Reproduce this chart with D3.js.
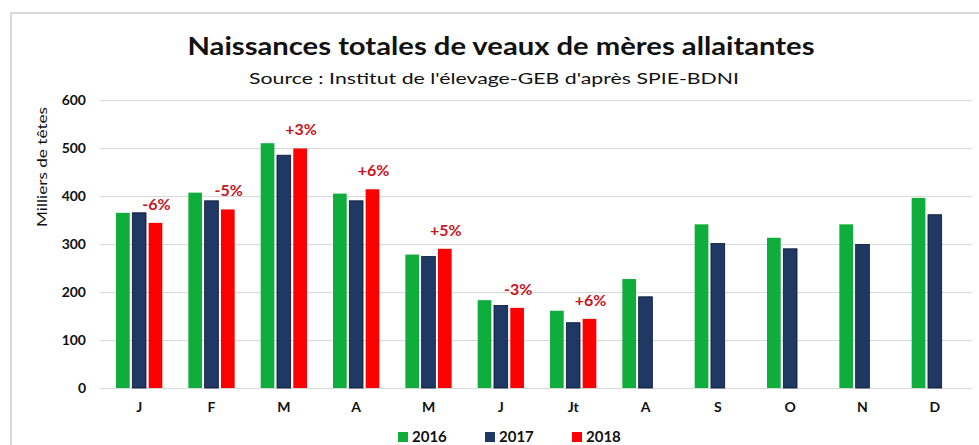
<!DOCTYPE html>
<html><head><meta charset="utf-8">
<script src="https://cdn.jsdelivr.net/npm/d3@7"></script>
<style>body{margin:0;background:#fff;} svg{display:block;font-family:Lato,"Open Sans",sans-serif;}</style>
</head><body>
<svg id="c" width="979" height="445"></svg>
<script>
const months = ["J","F","M","A","M","J","Jt","A","S","O","N","D"];
const years = ["2016","2017","2018"];
const v2016 = [365,407,510,405,278,183,161,227,341,313,341,396];
const v2017 = [365,390,485,390,274,172,136,190,301,290,299,361];
const v2018 = [344,372,499,414,290,167,144,null,null,null,null,null];
const pctLabels = ["-6%","-5%","+3%","+6%","+5%","-3%","+6%",null,null,null,null,null];
const yTicks = [0,100,200,300,400,500,600];
const colors = ["#0fad3c","#1f3864","#ff0000"];

const svg = d3.select("#c");
const W = 979, H = 445;
const gridL = 100, gridR = 972;
const x0 = d3.scaleBand().domain(d3.range(months.length)).range([103, 971]).paddingInner(0.36).paddingOuter(0.18);
const x1 = d3.scaleBand().domain(years).range([0, x0.bandwidth()]).paddingInner(0.16);
const y = d3.scaleLinear().domain([0,600]).range([388,100]);

// frame
svg.append("rect").attr("x",11).attr("y",13).attr("width",W).attr("height",H)
  .attr("fill","none").attr("stroke","#d9d9d9").attr("stroke-width",2);

// title
svg.append("text").attr("x",501).attr("y",55).attr("text-anchor","middle")
  .attr("font-size",24).attr("font-weight","bold").attr("fill","#111")
  .attr("textLength",627).attr("lengthAdjust","spacingAndGlyphs")
  .text("Naissances totales de veaux de mères allaitantes");
svg.append("text").attr("x",494).attr("y",84).attr("text-anchor","middle")
  .attr("font-size",15).attr("fill","#111")
  .attr("textLength",490).attr("lengthAdjust","spacingAndGlyphs")
  .text("Source : Institut de l'élevage-GEB d'après SPIE-BDNI");

// grid
const yAxis = d3.axisLeft(y).tickValues(yTicks).tickSize(-(gridR - gridL)).tickPadding(14);
const gy = svg.append("g").attr("transform",`translate(${gridL},0)`).call(yAxis);
gy.select(".domain").remove();
gy.selectAll(".tick line").attr("stroke","#d9d9d9").attr("stroke-width",1);
gy.selectAll(".tick text").attr("font-size",14).attr("font-weight","bold").attr("fill","#111").attr("font-family","Lato, sans-serif");

// y title
svg.append("text").attr("transform","translate(47,167) rotate(-90)").attr("text-anchor","middle")
  .attr("font-size",13).attr("fill","#111")
  .attr("textLength",120).attr("lengthAdjust","spacingAndGlyphs")
  .text("Milliers de têtes");

// bars
const series = [v2016, v2017, v2018];
series.forEach((vals, si) => {
  svg.append("g").selectAll("rect").data(vals.map((v,i)=>({v,i})).filter(d=>d.v!=null))
    .join("rect")
    .attr("x", d => x0(d.i) + x1(years[si]))
    .attr("y", d => y(d.v))
    .attr("width", x1.bandwidth())
    .attr("height", d => y(0) - y(d.v))
    .attr("fill", colors[si])
    .attr("stroke", si===1 ? "#0a1530" : "none").attr("stroke-width", 0.8);
});

// pct labels
svg.append("g").selectAll("text").data(pctLabels.map((t,i)=>({t,i})).filter(d=>d.t))
  .join("text")
  .attr("x", d => x0(d.i) + x1("2018") + x1.bandwidth()/2 + 1)
  .attr("y", d => y(v2018[d.i]) - 13)
  .attr("text-anchor","middle").attr("font-size",16).attr("font-weight","bold")
  .attr("fill","#c8141e").text(d => d.t);

// x axis
const xAxis = d3.axisBottom(x0).tickFormat(i => months[i]).tickSize(0).tickPadding(14);
const gx = svg.append("g").attr("transform",`translate(0,${y(0)})`).call(xAxis);
gx.select(".domain").remove();
gx.selectAll(".tick text").attr("font-size",14).attr("font-weight","bold").attr("fill","#111").attr("font-family","Lato, sans-serif");

// legend
const legX = [398, 485, 572];
const lg = svg.append("g");
years.forEach((yr, i) => {
  lg.append("rect").attr("x",legX[i]).attr("y",432).attr("width",10).attr("height",10).attr("fill",colors[i]);
  lg.append("text").attr("x",legX[i]+14).attr("y",442).attr("font-size",15).attr("font-weight","bold")
    .attr("fill","#111").text(yr);
});
</script>
</body></html>
